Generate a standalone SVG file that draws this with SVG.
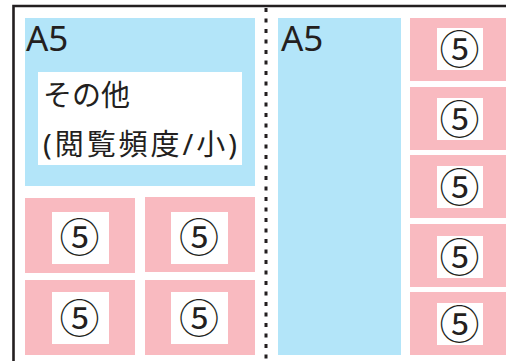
<svg xmlns="http://www.w3.org/2000/svg" width="506" height="361" viewBox="0 0 506 361">
<style>
.blue{fill:#b3e5f9}
.pink{fill:#f9bac0}
.white{fill:#ffffff}
.t{font-family:"Noto Sans","Noto Sans CJK JP",sans-serif;fill:#231f20}
.a5{font-size:35px}
.jp{font-size:29px}
.c{font-family:"Noto Sans CJK JP",sans-serif;font-size:40px;fill:#231f20;text-anchor:middle}
</style>
<rect x="0" y="0" width="506" height="361" fill="#ffffff"/>
<g id="frame">
<path d="M13.5,365 V6 H510" fill="none" stroke="#231f20" stroke-width="2.6"/>
</g>
<g id="divider">
<line x1="266" y1="8" x2="266" y2="361" stroke="#231f20" stroke-width="3" stroke-dasharray="4 6.5"/>
</g>
<g id="leftA5">
<rect class="blue" x="25" y="18" width="230" height="168"/>
<text class="t a5" x="26" y="51">A5</text>
<rect class="white" x="38" y="72" width="204" height="93"/>
<text class="t jp" x="43" y="106">その他</text>
<text class="t jp" x="43" y="155" textLength="194" lengthAdjust="spacing">(閲覧頻度/小)</text>
</g>
<g id="l1"><rect class="pink" x="25" y="198" width="110" height="75"/><rect class="white" x="52" y="212" width="57" height="52"/><text class="c" x="79.5" y="252">⑤</text></g>
<g id="l2"><rect class="pink" x="145" y="197" width="110" height="75"/><rect class="white" x="171" y="212" width="57" height="52"/><text class="c" x="199" y="252">⑤</text></g>
<g id="l3"><rect class="pink" x="25" y="280" width="110" height="75"/><rect class="white" x="52" y="292" width="57" height="52"/><text class="c" x="79.5" y="332.5">⑤</text></g>
<g id="l4"><rect class="pink" x="145" y="280" width="110" height="75"/><rect class="white" x="171" y="292" width="57" height="52"/><text class="c" x="199" y="332.5">⑤</text></g>
<g id="rightA5">
<rect class="blue" x="278" y="18" width="123" height="337"/>
<text class="t a5" x="281" y="51">A5</text>
</g>
<g id="r1"><rect class="pink" x="410" y="18" width="96" height="63"/><rect class="white" x="437" y="28" width="46" height="42"/><text class="c" x="459.5" y="64">⑤</text></g>
<g id="r2"><rect class="pink" x="410" y="87" width="96" height="63"/><rect class="white" x="437" y="98" width="46" height="42"/><text class="c" x="459.5" y="134">⑤</text></g>
<g id="r3"><rect class="pink" x="410" y="155" width="96" height="63"/><rect class="white" x="437" y="166" width="46" height="42"/><text class="c" x="459.5" y="202">⑤</text></g>
<g id="r4"><rect class="pink" x="410" y="224" width="96" height="63"/><rect class="white" x="437" y="236" width="46" height="42"/><text class="c" x="459.5" y="272">⑤</text></g>
<g id="r5"><rect class="pink" x="410" y="292" width="96" height="63"/><rect class="white" x="437" y="303" width="46" height="42"/><text class="c" x="459.5" y="339">⑤</text></g>
</svg>
